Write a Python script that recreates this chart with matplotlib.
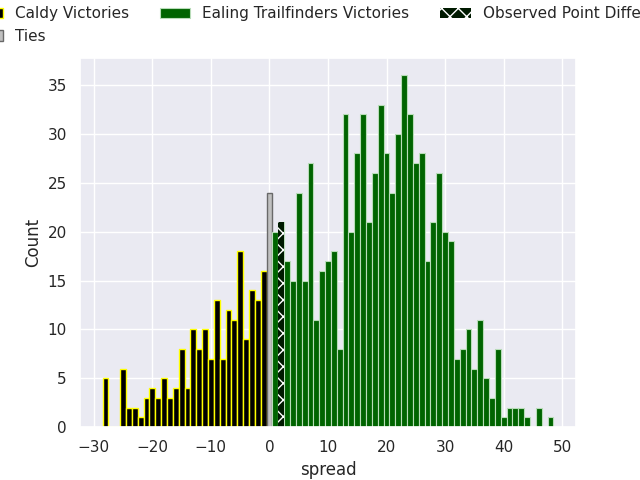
import matplotlib
matplotlib.use("Agg")
import matplotlib.pyplot as plt
import seaborn as sns

# spread values and how many simulations landed on each
caldy_spread = list(range(-28, 0))
caldy_count = [5, 0, 0, 6, 2, 2, 1, 3, 4, 3, 5, 3, 4, 8, 4, 10, 8, 10, 7, 13,
               7, 12, 11, 18, 9, 14, 13, 16]
tie_spread = [0]
tie_count = [24]
ealing_spread = list(range(1, 49))
ealing_count = [20, 21, 17, 15, 24, 15, 27, 11, 16, 17, 18, 8, 32, 20, 28, 32,
                21, 26, 33, 28, 24, 30, 36, 32, 27, 28, 17, 21, 26, 20, 19, 7,
                8, 10, 6, 11, 5, 3, 8, 1, 2, 2, 2, 1, 0, 2, 0, 1]
observed_spread = 2

sns.set_theme(style="darkgrid")

fig, ax = plt.subplots(figsize=(6.4, 4.8), dpi=100)

ax.bar(caldy_spread, caldy_count, width=1, color="black", edgecolor="yellow",
       linewidth=1, label="Caldy Victories")
ax.bar(tie_spread, tie_count, width=1, color="silver", edgecolor="dimgray",
       linewidth=1, label="Ties")
ax.bar(ealing_spread, ealing_count, width=1, color="darkgreen",
       edgecolor="#b8dcb8", linewidth=0.8, label="Ealing Trailfinders Victories")

obs_idx = ealing_spread.index(observed_spread)
ax.bar([observed_spread], [ealing_count[obs_idx]], width=1, color="#001a00",
       edgecolor="white", linewidth=0, hatch="xx",
       label="Observed Point Difference")

ax.set_xlabel("spread")
ax.set_ylabel("Count")

ax.legend(loc="lower center", bbox_to_anchor=(0.5, 1.0), ncol=3, frameon=False)

fig.savefig("out.png")
